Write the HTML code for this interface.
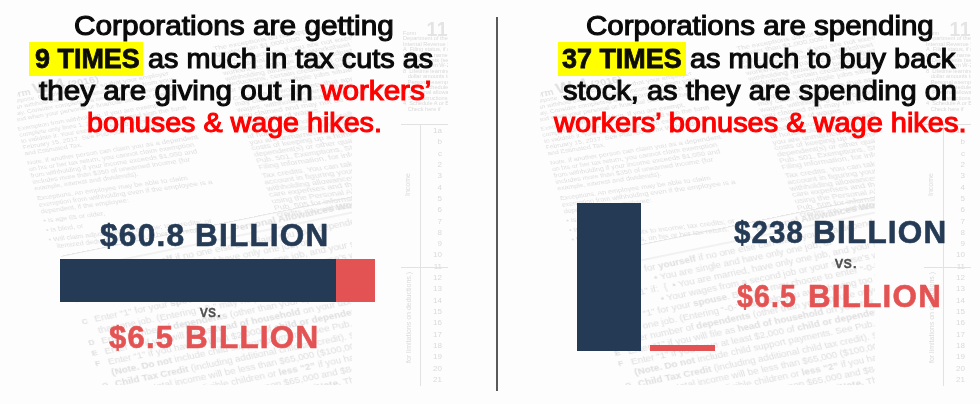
<!DOCTYPE html>
<html><head><meta charset="utf-8"><style>
.f10{position:absolute;top:18px;width:48px;height:368px;overflow:hidden;color:#dadada;font-size:6px;line-height:6.2px;filter:blur(0.4px)}
.f11{position:absolute;right:0;top:1px;font-size:19.5px;line-height:20px;font-weight:700;color:#e4e4e4;letter-spacing:0.5px}
.f10t{position:absolute;left:3px;top:13px;white-space:nowrap;font-size:5.6px;line-height:5.4px}
.f10n{position:absolute;left:27px;top:107px;width:15px;text-align:right;font-size:8px;line-height:11.32px}
.f10v{position:absolute;left:20px;top:106px;width:1px;height:262px;background:#e2e2e2}
.f10h1{position:absolute;left:1px;top:106px;width:47px;height:1px;background:#e2e2e2}
.f10h2{position:absolute;left:1px;top:249px;width:47px;height:1px;background:#e2e2e2}
.f10inc{position:absolute;left:5px;top:178px;transform:rotate(-90deg);transform-origin:0 0;font-size:7px;white-space:nowrap}
.f10lim{position:absolute;left:6px;top:345px;transform:rotate(-90deg);transform-origin:0 0;font-size:7px;white-space:nowrap}

.w4clip{position:absolute;top:0;width:335px;height:385px;overflow:hidden;filter:blur(0.45px)}
.w4{position:absolute;left:0;top:0;width:10px;height:10px;transform-origin:0 0;color:#dedede}
.w4 > div{position:absolute;white-space:nowrap}
.w4 b{font-weight:700;color:#dedede}
.ln{font-size:9px;line-height:10px}
.ti{font-size:14px;line-height:20px;font-weight:700;color:#e2e2e2}
.rule{width:530px;height:1px;background:#e2e2e2}
.rule2{width:530px;height:1px;background:#e2e2e2}
.wh{font-size:11px;line-height:14px}
.wl{font-size:9px;line-height:12px;font-weight:700}
.wt{font-size:10.5px;line-height:12px}

*{margin:0;padding:0;box-sizing:border-box}
html,body{width:980px;height:404px;overflow:hidden;background:#fdfdfd}
body{position:relative;font-family:"Liberation Sans",sans-serif}
.ab{position:absolute;white-space:nowrap;transform-origin:0 0}
.h{font-size:27.5px;line-height:27.5px;color:#0a0a0a;-webkit-text-stroke:1.1px #0a0a0a}
.hb{font-size:28.5px;line-height:28.5px;color:#0c0c0c;font-weight:700;-webkit-text-stroke:0.8px #0c0c0c}
.r{color:#ff0000;-webkit-text-stroke:1.1px #ff0000}
.hl{position:absolute;background:#ffff00}
.num{font-size:30.5px;line-height:30.5px;font-weight:700;letter-spacing:1.2px;word-spacing:2px}
.navy{-webkit-text-stroke:0.6px #243a55}
.red{-webkit-text-stroke:0.6px #e45353}
.navy{color:#243a55}
.red{color:#e45353}
.vs{font-size:16.5px;line-height:16.5px;color:#4c4c4c;letter-spacing:0.8px;-webkit-text-stroke:0.6px #4c4c4c}
.bx{position:absolute}
</style></head><body>
<div class="w4clip" style="left:17px">
<div class="w4" style="transform:matrix3d(0.7039144,-0.1612897,0,-0.000323184,0.1656766,0.5501285,0,-0.000328523,0,0,1,0,-11.59134,85.14920,0,1.0000000)">
<div class="ti" style="left:-4.0px;top:5.0px">Form <span style="font-size:24px">W-4</span> (2016)</div>
<div class="ln" style="left:0.0px;top:24.0px">Purpose. Complete Form W-4 so that your employer</div>
<div class="ln" style="left:0.0px;top:34.0px">can withhold the correct federal income tax from your</div>
<div class="ln" style="left:0.0px;top:44.0px">pay. Consider completing a new Form W-4 each year</div>
<div class="ln" style="left:0.0px;top:54.0px">and when your personal or financial situation changes.</div>
<div class="ln" style="left:0.0px;top:69.0px">Exemption from withholding. If you are exempt,</div>
<div class="ln" style="left:0.0px;top:79.0px">complete only lines 1, 2, 3, 4, and 7 and sign the form</div>
<div class="ln" style="left:0.0px;top:89.0px">to validate it. Your exemption for 2016 expires</div>
<div class="ln" style="left:0.0px;top:99.0px">February 15, 2017. See Pub. 505, Tax Withholding</div>
<div class="ln" style="left:0.0px;top:109.0px">and Estimated Tax.</div>
<div class="ln" style="left:0.0px;top:124.0px">Note. If another person can claim you as a dependent</div>
<div class="ln" style="left:0.0px;top:134.0px">on his or her tax return, you cannot claim exemption</div>
<div class="ln" style="left:0.0px;top:144.0px">from withholding if your income exceeds $1,050 and</div>
<div class="ln" style="left:0.0px;top:154.0px">includes more than $350 of unearned income (for</div>
<div class="ln" style="left:0.0px;top:164.0px">example, interest and dividends).</div>
<div class="ln" style="left:0.0px;top:179.0px">Exceptions. An employee may be able to claim</div>
<div class="ln" style="left:0.0px;top:189.0px">exemption from withholding even if the employee is a</div>
<div class="ln" style="left:0.0px;top:199.0px">dependent, if the employee:</div>
<div class="ln" style="left:0.0px;top:213.0px">• Is age 65 or older,</div>
<div class="ln" style="left:0.0px;top:227.0px">• Is blind, or</div>
<div class="ln" style="left:0.0px;top:241.0px">• Will claim adjustments to income; tax credits; or</div>
<div class="ln" style="left:8.0px;top:251.0px">itemized deductions, on his or her tax return.</div>
<div class="ln" style="left:269.8px;top:-0.1px">The exceptions do not apply to supplemental wages</div>
<div class="ln" style="left:269.7px;top:8.6px">greater than $1,000,000.</div>
<div class="ln" style="left:269.4px;top:21.3px">Basic instructions. If you are not exempt, complete</div>
<div class="ln" style="left:269.3px;top:30.0px">the Personal Allowances Worksheet below. The</div>
<div class="ln" style="left:269.1px;top:38.7px">worksheets on page 2 further adjust your</div>
<div class="ln" style="left:268.9px;top:47.5px">withholding allowances based on itemized</div>
<div class="ln" style="left:268.8px;top:56.2px">deductions, certain credits, adjustments to income,</div>
<div class="ln" style="left:268.6px;top:64.9px">or two-earners/multiple jobs situations.</div>
<div class="ln" style="left:268.4px;top:77.6px">Complete all worksheets that apply. However, you</div>
<div class="ln" style="left:268.2px;top:86.3px">may claim fewer (or zero) allowances. For regular</div>
<div class="ln" style="left:268.1px;top:95.1px">wages, withholding must be based on allowances</div>
<div class="ln" style="left:267.9px;top:103.8px">you claimed and may not be a flat amount or</div>
<div class="ln" style="left:267.7px;top:112.5px">percentage of wages.</div>
<div class="ln" style="left:267.5px;top:125.2px">Head of household. Generally, you can claim head</div>
<div class="ln" style="left:267.4px;top:133.9px">of household filing status on your tax return only if</div>
<div class="ln" style="left:267.2px;top:142.6px">you are unmarried and pay more than 50% of the</div>
<div class="ln" style="left:267.0px;top:151.4px">costs of keeping up a home for yourself and your</div>
<div class="ln" style="left:266.9px;top:160.1px">dependent(s) or other qualifying individuals. See</div>
<div class="ln" style="left:266.7px;top:168.8px">Pub. 501, Exemptions, Standard Deduction, and</div>
<div class="ln" style="left:266.5px;top:177.5px">Filing Information, for information.</div>
<div class="ln" style="left:266.3px;top:190.2px">Tax credits. You can take projected tax credits into</div>
<div class="ln" style="left:266.1px;top:198.9px">account in figuring your allowable number of</div>
<div class="ln" style="left:266.0px;top:207.7px">withholding allowances. Credits for child or dependent</div>
<div class="ln" style="left:265.8px;top:216.4px">care expenses and the child tax credit may be claimed</div>
<div class="ln" style="left:265.7px;top:225.1px">using the Personal Allowances Worksheet below. See</div>
<div class="ln" style="left:265.5px;top:233.8px">Pub. 505 for information on converting your other</div>
<div class="ln" style="left:265.3px;top:242.5px">credits into withholding allowances.</div>
</div>
<div class="w4" style="transform:matrix3d(0.9176165,-0.1874143,0,0.000000000,0.2620082,0.8210203,0,0.000000000,0,0,1,0,43.68272,255.89383,0,1.0000000)">
<div class="rule" style="left:0.0px;top:0.0px"></div>
<div class="wh" style="left:185.0px;top:2.0px"><b>Personal Allowances Worksheet</b> (Keep for your records.)</div>
<div class="rule2" style="left:0.0px;top:18.0px"></div>
<div class="wl" style="left:0.0px;top:22.0px">A</div>
<div class="wt" style="left:14.0px;top:22.0px">Enter “1” for <b>yourself</b> if no one else can claim you as a dependent . . . . . . . . . . . . . . . . . . . .</div>
<div class="wl" style="left:0.0px;top:35.0px"></div>
<div class="wt" style="left:62.0px;top:35.0px"> &nbsp;• You are single and have only one job; or</div>
<div class="wl" style="left:0.0px;top:48.0px">B</div>
<div class="wt" style="left:14.0px;top:48.0px">Enter “1” if: &nbsp;{ &nbsp;• You are married, have only one job, and your spouse does not work; or</div>
<div class="wl" style="left:0.0px;top:61.0px"></div>
<div class="wt" style="left:62.0px;top:61.0px"> &nbsp;• Your wages from a second job or your spouse’s wages (or the total of both) are $1,500 or less.</div>
<div class="wl" style="left:0.0px;top:74.0px">C</div>
<div class="wt" style="left:14.0px;top:74.0px">Enter “1” for your <b>spouse</b>. But, you may choose to enter “-0-” if you are married and have either a working spouse or more</div>
<div class="wl" style="left:0.0px;top:87.0px"></div>
<div class="wt" style="left:14.0px;top:87.0px">than one job. (Entering “-0-” may help you avoid having too little tax withheld.) . . . . . . . . . . . . .</div>
<div class="wl" style="left:0.0px;top:100.0px">D</div>
<div class="wt" style="left:14.0px;top:100.0px">Enter number of <b>dependents</b> (other than your spouse or yourself) you will claim on your tax return . . . . .</div>
<div class="wl" style="left:0.0px;top:113.0px">E</div>
<div class="wt" style="left:14.0px;top:113.0px">Enter “1” if you will file as <b>head of household</b> on your tax return (see conditions under <b>Head of household</b> above)</div>
<div class="wl" style="left:0.0px;top:126.0px">F</div>
<div class="wt" style="left:14.0px;top:126.0px">Enter “1” if you have at least $2,000 of <b>child or dependent care expenses</b> for which you plan to claim a credit</div>
<div class="wl" style="left:0.0px;top:139.0px"></div>
<div class="wt" style="left:14.0px;top:139.0px"><b>(Note. Do not</b> include child support payments. See Pub. 503, Child and Dependent Care Expenses, for details.)</div>
<div class="wl" style="left:0.0px;top:152.0px">G</div>
<div class="wt" style="left:14.0px;top:152.0px"><b>Child Tax Credit</b> (including additional child tax credit). See Pub. 972, Child Tax Credit, for more information.</div>
<div class="wl" style="left:0.0px;top:165.0px"></div>
<div class="wt" style="left:14.0px;top:165.0px">• If your total income will be less than $65,000 ($100,000 if married), enter “2” for each eligible child; then less “1” if you</div>
<div class="wl" style="left:0.0px;top:178.0px"></div>
<div class="wt" style="left:14.0px;top:178.0px">&nbsp;&nbsp;have two to four eligible children or <b>less “2”</b> if you have five or more eligible children.</div>
<div class="wl" style="left:0.0px;top:191.0px"></div>
<div class="wt" style="left:14.0px;top:191.0px">• If your total income will be between $65,000 and $84,000 ($100,000 and $119,000 if married), enter “1” for each eligible child</div>
<div class="wl" style="left:0.0px;top:204.0px">H</div>
<div class="wt" style="left:14.0px;top:204.0px">Add lines A through G and enter total here. (<b>Note.</b> This may be different from the number of exemptions you claim on your tax return.)</div>
</div>
</div><div class="f10" style="left:400px">
<div class="f11">11</div><div class="f10t">Form<br>Department of the Treasury<br>Internal Revenue Service<br>A&nbsp; Filing status, if married<br>b&nbsp; Spouse&rsquo;s name and SSN<br>c&nbsp; Dependents (see instr.)<br>&nbsp;&nbsp; Attach Form W-2 here<br>8&nbsp; Lifetime learning credit<br>&nbsp;&nbsp; dollar amounts total<br>&nbsp;&nbsp; Personal exemptions<br>&nbsp;&nbsp; Attach Schedule B<br>3&nbsp; Personal allowance<br>&nbsp;&nbsp; See instructions<br>4&nbsp; Schedule A or B<br>&nbsp;&nbsp; Check here if</div>
<div class="f10n"><div>1a</div><div>b</div><div>c</div><div>2</div><div>3</div><div>4</div><div>5</div><div>6</div><div>7</div><div>8</div><div>9</div><div>10</div><div>11</div><div>12</div><div>13</div><div>14</div><div>15</div><div>16</div><div>17</div><div>18</div><div>19</div><div>20</div><div>21</div></div>
<div class="f10v"></div><div class="f10h1"></div><div class="f10h2"></div>
<div class="f10inc">Income</div><div class="f10lim">for limitations on deductions.)</div>
</div><div class="w4clip" style="left:540px">
<div class="w4" style="transform:matrix3d(0.7039144,-0.1612897,0,-0.000323184,0.1656766,0.5501285,0,-0.000328523,0,0,1,0,-11.59134,85.14920,0,1.0000000)">
<div class="ti" style="left:-4.0px;top:5.0px">Form <span style="font-size:24px">W-4</span> (2016)</div>
<div class="ln" style="left:0.0px;top:24.0px">Purpose. Complete Form W-4 so that your employer</div>
<div class="ln" style="left:0.0px;top:34.0px">can withhold the correct federal income tax from your</div>
<div class="ln" style="left:0.0px;top:44.0px">pay. Consider completing a new Form W-4 each year</div>
<div class="ln" style="left:0.0px;top:54.0px">and when your personal or financial situation changes.</div>
<div class="ln" style="left:0.0px;top:69.0px">Exemption from withholding. If you are exempt,</div>
<div class="ln" style="left:0.0px;top:79.0px">complete only lines 1, 2, 3, 4, and 7 and sign the form</div>
<div class="ln" style="left:0.0px;top:89.0px">to validate it. Your exemption for 2016 expires</div>
<div class="ln" style="left:0.0px;top:99.0px">February 15, 2017. See Pub. 505, Tax Withholding</div>
<div class="ln" style="left:0.0px;top:109.0px">and Estimated Tax.</div>
<div class="ln" style="left:0.0px;top:124.0px">Note. If another person can claim you as a dependent</div>
<div class="ln" style="left:0.0px;top:134.0px">on his or her tax return, you cannot claim exemption</div>
<div class="ln" style="left:0.0px;top:144.0px">from withholding if your income exceeds $1,050 and</div>
<div class="ln" style="left:0.0px;top:154.0px">includes more than $350 of unearned income (for</div>
<div class="ln" style="left:0.0px;top:164.0px">example, interest and dividends).</div>
<div class="ln" style="left:0.0px;top:179.0px">Exceptions. An employee may be able to claim</div>
<div class="ln" style="left:0.0px;top:189.0px">exemption from withholding even if the employee is a</div>
<div class="ln" style="left:0.0px;top:199.0px">dependent, if the employee:</div>
<div class="ln" style="left:0.0px;top:213.0px">• Is age 65 or older,</div>
<div class="ln" style="left:0.0px;top:227.0px">• Is blind, or</div>
<div class="ln" style="left:0.0px;top:241.0px">• Will claim adjustments to income; tax credits; or</div>
<div class="ln" style="left:8.0px;top:251.0px">itemized deductions, on his or her tax return.</div>
<div class="ln" style="left:269.8px;top:-0.1px">The exceptions do not apply to supplemental wages</div>
<div class="ln" style="left:269.7px;top:8.6px">greater than $1,000,000.</div>
<div class="ln" style="left:269.4px;top:21.3px">Basic instructions. If you are not exempt, complete</div>
<div class="ln" style="left:269.3px;top:30.0px">the Personal Allowances Worksheet below. The</div>
<div class="ln" style="left:269.1px;top:38.7px">worksheets on page 2 further adjust your</div>
<div class="ln" style="left:268.9px;top:47.5px">withholding allowances based on itemized</div>
<div class="ln" style="left:268.8px;top:56.2px">deductions, certain credits, adjustments to income,</div>
<div class="ln" style="left:268.6px;top:64.9px">or two-earners/multiple jobs situations.</div>
<div class="ln" style="left:268.4px;top:77.6px">Complete all worksheets that apply. However, you</div>
<div class="ln" style="left:268.2px;top:86.3px">may claim fewer (or zero) allowances. For regular</div>
<div class="ln" style="left:268.1px;top:95.1px">wages, withholding must be based on allowances</div>
<div class="ln" style="left:267.9px;top:103.8px">you claimed and may not be a flat amount or</div>
<div class="ln" style="left:267.7px;top:112.5px">percentage of wages.</div>
<div class="ln" style="left:267.5px;top:125.2px">Head of household. Generally, you can claim head</div>
<div class="ln" style="left:267.4px;top:133.9px">of household filing status on your tax return only if</div>
<div class="ln" style="left:267.2px;top:142.6px">you are unmarried and pay more than 50% of the</div>
<div class="ln" style="left:267.0px;top:151.4px">costs of keeping up a home for yourself and your</div>
<div class="ln" style="left:266.9px;top:160.1px">dependent(s) or other qualifying individuals. See</div>
<div class="ln" style="left:266.7px;top:168.8px">Pub. 501, Exemptions, Standard Deduction, and</div>
<div class="ln" style="left:266.5px;top:177.5px">Filing Information, for information.</div>
<div class="ln" style="left:266.3px;top:190.2px">Tax credits. You can take projected tax credits into</div>
<div class="ln" style="left:266.1px;top:198.9px">account in figuring your allowable number of</div>
<div class="ln" style="left:266.0px;top:207.7px">withholding allowances. Credits for child or dependent</div>
<div class="ln" style="left:265.8px;top:216.4px">care expenses and the child tax credit may be claimed</div>
<div class="ln" style="left:265.7px;top:225.1px">using the Personal Allowances Worksheet below. See</div>
<div class="ln" style="left:265.5px;top:233.8px">Pub. 505 for information on converting your other</div>
<div class="ln" style="left:265.3px;top:242.5px">credits into withholding allowances.</div>
</div>
<div class="w4" style="transform:matrix3d(0.9176165,-0.1874143,0,0.000000000,0.2620082,0.8210203,0,0.000000000,0,0,1,0,43.68272,255.89383,0,1.0000000)">
<div class="rule" style="left:0.0px;top:0.0px"></div>
<div class="wh" style="left:185.0px;top:2.0px"><b>Personal Allowances Worksheet</b> (Keep for your records.)</div>
<div class="rule2" style="left:0.0px;top:18.0px"></div>
<div class="wl" style="left:0.0px;top:22.0px">A</div>
<div class="wt" style="left:14.0px;top:22.0px">Enter “1” for <b>yourself</b> if no one else can claim you as a dependent . . . . . . . . . . . . . . . . . . . .</div>
<div class="wl" style="left:0.0px;top:35.0px"></div>
<div class="wt" style="left:62.0px;top:35.0px"> &nbsp;• You are single and have only one job; or</div>
<div class="wl" style="left:0.0px;top:48.0px">B</div>
<div class="wt" style="left:14.0px;top:48.0px">Enter “1” if: &nbsp;{ &nbsp;• You are married, have only one job, and your spouse does not work; or</div>
<div class="wl" style="left:0.0px;top:61.0px"></div>
<div class="wt" style="left:62.0px;top:61.0px"> &nbsp;• Your wages from a second job or your spouse’s wages (or the total of both) are $1,500 or less.</div>
<div class="wl" style="left:0.0px;top:74.0px">C</div>
<div class="wt" style="left:14.0px;top:74.0px">Enter “1” for your <b>spouse</b>. But, you may choose to enter “-0-” if you are married and have either a working spouse or more</div>
<div class="wl" style="left:0.0px;top:87.0px"></div>
<div class="wt" style="left:14.0px;top:87.0px">than one job. (Entering “-0-” may help you avoid having too little tax withheld.) . . . . . . . . . . . . .</div>
<div class="wl" style="left:0.0px;top:100.0px">D</div>
<div class="wt" style="left:14.0px;top:100.0px">Enter number of <b>dependents</b> (other than your spouse or yourself) you will claim on your tax return . . . . .</div>
<div class="wl" style="left:0.0px;top:113.0px">E</div>
<div class="wt" style="left:14.0px;top:113.0px">Enter “1” if you will file as <b>head of household</b> on your tax return (see conditions under <b>Head of household</b> above)</div>
<div class="wl" style="left:0.0px;top:126.0px">F</div>
<div class="wt" style="left:14.0px;top:126.0px">Enter “1” if you have at least $2,000 of <b>child or dependent care expenses</b> for which you plan to claim a credit</div>
<div class="wl" style="left:0.0px;top:139.0px"></div>
<div class="wt" style="left:14.0px;top:139.0px"><b>(Note. Do not</b> include child support payments. See Pub. 503, Child and Dependent Care Expenses, for details.)</div>
<div class="wl" style="left:0.0px;top:152.0px">G</div>
<div class="wt" style="left:14.0px;top:152.0px"><b>Child Tax Credit</b> (including additional child tax credit). See Pub. 972, Child Tax Credit, for more information.</div>
<div class="wl" style="left:0.0px;top:165.0px"></div>
<div class="wt" style="left:14.0px;top:165.0px">• If your total income will be less than $65,000 ($100,000 if married), enter “2” for each eligible child; then less “1” if you</div>
<div class="wl" style="left:0.0px;top:178.0px"></div>
<div class="wt" style="left:14.0px;top:178.0px">&nbsp;&nbsp;have two to four eligible children or <b>less “2”</b> if you have five or more eligible children.</div>
<div class="wl" style="left:0.0px;top:191.0px"></div>
<div class="wt" style="left:14.0px;top:191.0px">• If your total income will be between $65,000 and $84,000 ($100,000 and $119,000 if married), enter “1” for each eligible child</div>
<div class="wl" style="left:0.0px;top:204.0px">H</div>
<div class="wt" style="left:14.0px;top:204.0px">Add lines A through G and enter total here. (<b>Note.</b> This may be different from the number of exemptions you claim on your tax return.)</div>
</div>
</div><div class="f10" style="left:923px">
<div class="f11">11</div><div class="f10t">Form<br>Department of the Treasury<br>Internal Revenue Service<br>A&nbsp; Filing status, if married<br>b&nbsp; Spouse&rsquo;s name and SSN<br>c&nbsp; Dependents (see instr.)<br>&nbsp;&nbsp; Attach Form W-2 here<br>8&nbsp; Lifetime learning credit<br>&nbsp;&nbsp; dollar amounts total<br>&nbsp;&nbsp; Personal exemptions<br>&nbsp;&nbsp; Attach Schedule B<br>3&nbsp; Personal allowance<br>&nbsp;&nbsp; See instructions<br>4&nbsp; Schedule A or B<br>&nbsp;&nbsp; Check here if</div>
<div class="f10n"><div>1a</div><div>b</div><div>c</div><div>2</div><div>3</div><div>4</div><div>5</div><div>6</div><div>7</div><div>8</div><div>9</div><div>10</div><div>11</div><div>12</div><div>13</div><div>14</div><div>15</div><div>16</div><div>17</div><div>18</div><div>19</div><div>20</div><div>21</div></div>
<div class="f10v"></div><div class="f10h1"></div><div class="f10h2"></div>
<div class="f10inc">Income</div><div class="f10lim">for limitations on deductions.)</div>
</div>
<div class="hl" style="left:29px;top:42px;width:114px;height:34px"></div>
<div class="hl" style="left:558px;top:42px;width:128px;height:34px"></div>
<div class="bx" style="left:496.4px;top:17px;width:2px;height:374px;background:#5a5a5a"></div>
<div class="bx" style="left:60px;top:259px;width:276px;height:43px;background:#243a55"></div>
<div class="bx" style="left:336px;top:259px;width:39px;height:43px;background:#e45353"></div>
<div class="bx" style="left:577px;top:203px;width:64px;height:148px;background:#243a55"></div>
<div class="bx" style="left:650px;top:345px;width:65px;height:6px;background:#e45353"></div>
<div class="ab h" id="l1" style="left:73.91px;top:12.40px;transform:scaleX(1.0843);">Corporations are getting</div>
<div class="ab hb" id="l2a" style="left:35.00px;top:43.50px;transform:scaleX(0.9455);">9 TIMES</div>
<div class="ab h" id="l2b" style="left:148.00px;top:44.50px;transform:scaleX(1.0478);">as much in tax cuts as</div>
<div class="ab h" id="l3" style="left:39.43px;top:76.80px;transform:scaleX(1.0787);">they are giving out in <span class="r">workers’</span></div>
<div class="ab h" id="l4" style="left:87.43px;top:109.00px;transform:scaleX(1.0428);"><span class="r">bonuses &amp; wage hikes.</span></div>
<div class="ab h" id="r1" style="left:585.79px;top:12.40px;transform:scaleX(1.0731);">Corporations are spending</div>
<div class="ab hb" id="r2a" style="left:562.00px;top:43.50px;transform:scaleX(0.9445);">37 TIMES</div>
<div class="ab h" id="r2b" style="left:690.47px;top:44.50px;transform:scaleX(1.0514);">as much to buy back</div>
<div class="ab h" id="r3" style="left:562.68px;top:76.80px;transform:scaleX(1.0561);">stock, as they are spending on</div>
<div class="ab h" id="r4" style="left:554.32px;top:109.00px;transform:scaleX(1.0527);"><span class="r">workers’ bonuses &amp; wage hikes.</span></div>
<div class="ab num navy" id="n1a" style="left:99.98px;top:220.00px;transform:scaleX(1.0377);">$60.8</div>
<div class="ab num navy" id="n1b" style="left:195.32px;top:220.00px;transform:scaleX(1.0318);">BILLION</div>
<div class="ab num red" id="n2a" style="left:108.80px;top:322.21px;transform:scaleX(1.0161);">$6.5</div>
<div class="ab num red" id="n2b" style="left:185.17px;top:322.21px;transform:scaleX(1.0318);">BILLION</div>
<div class="ab num navy" id="n3a" style="left:733.79px;top:216.91px;transform:scaleX(0.9648);">$238</div>
<div class="ab num navy" id="n3b" style="left:812.53px;top:216.91px;transform:scaleX(1.0318);">BILLION</div>
<div class="ab num red" id="n4a" style="left:737.22px;top:280.50px;transform:scaleX(0.9358);">$6.5</div>
<div class="ab num red" id="n4b" style="left:807.99px;top:280.50px;transform:scaleX(1.0278);">BILLION</div>
<div class="ab vs" id="v1" style="left:200.01px;top:302.71px;transform:scaleX(0.9252);">vs.</div>
<div class="ab vs" id="v2" style="left:834.89px;top:254.40px;transform:scaleX(0.9689);">vs.</div>
</body></html>
